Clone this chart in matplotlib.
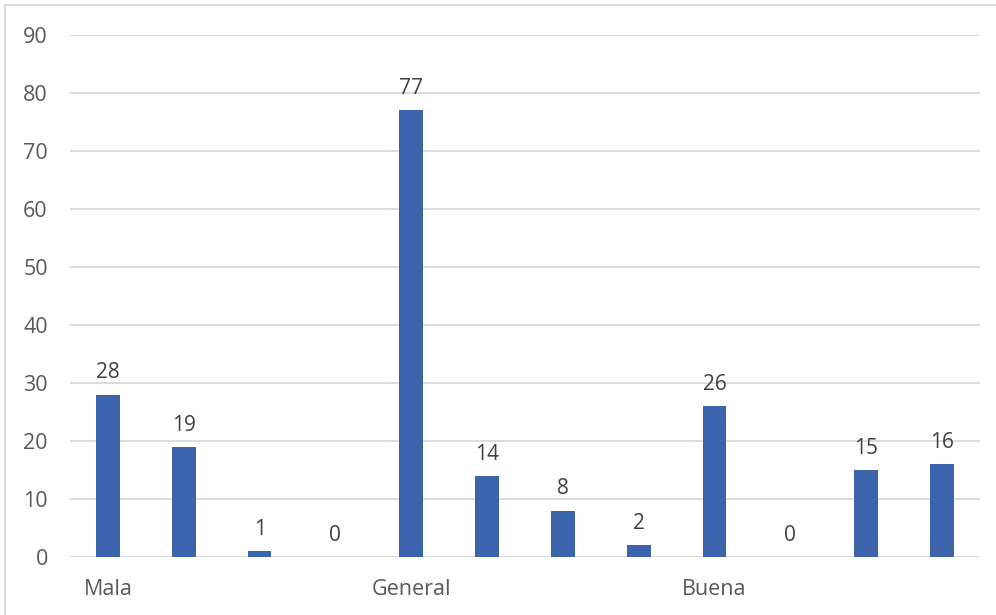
import matplotlib.pyplot as plt
from matplotlib.lines import Line2D

# values, one bar per category slot
values = [28, 19, 1, 0, 77, 14, 8, 2, 26, 0, 15, 16]
# only every fourth slot carries a label in the original
tick_labels = ["Mala", "", "", "", "General", "", "", "", "Buena", "", "", ""]
y_ticks = [0, 10, 20, 30, 40, 50, 60, 70, 80, 90]

bar_color = "#3c64ad"
tick_color = "#595959"
label_color = "#404040"
grid_color = "#d9d9d9"

plt.rcParams["font.family"] = ["Open Sans", "DejaVu Sans"]

fig = plt.figure(figsize=(9.96, 6.15), dpi=100)
ax = fig.add_axes([70 / 996, 1 - 557 / 615, 910 / 996, 522 / 615])

x = list(range(len(values)))
bars = ax.bar(x, values, width=0.31, color=bar_color, zorder=3)

for rect, v in zip(bars, values):
    ax.annotate(
        str(v),
        xy=(rect.get_x() + rect.get_width() / 2, v),
        xytext=(0, 8),
        textcoords="offset points",
        ha="center",
        va="bottom",
        fontsize=15,
        color=label_color,
    )

ax.set_xlim(-0.5, len(values) - 0.5)
ax.set_ylim(0, 90)
ax.set_yticks(y_ticks)
ax.set_xticks(x)
ax.set_xticklabels(tick_labels)
ax.tick_params(axis="both", length=0, labelsize=15.5, labelcolor=tick_color)
ax.tick_params(axis="x", pad=16)
ax.tick_params(axis="y", pad=16)

ax.grid(axis="y", color=grid_color, linewidth=1.3, zorder=0)
for side in ("top", "right", "left", "bottom"):
    ax.spines[side].set_visible(False)

# light frame round the chart (only left and top edges show in the reference)
fig.add_artist(Line2D([5 / 996, 5 / 996], [0, 1 - 5 / 615],
                      transform=fig.transFigure, color=grid_color, linewidth=1.3))
fig.add_artist(Line2D([5 / 996, 1], [1 - 5 / 615, 1 - 5 / 615],
                      transform=fig.transFigure, color=grid_color, linewidth=1.3))

fig.savefig("out.png", dpi=100)
